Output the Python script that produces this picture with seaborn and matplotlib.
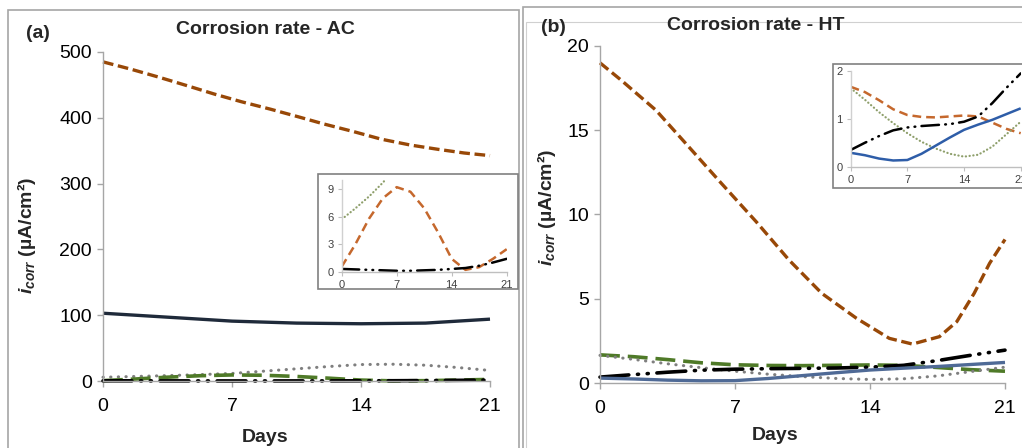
import matplotlib
matplotlib.use("Agg")
import matplotlib.pyplot as plt
from matplotlib.patches import Rectangle
import seaborn as sns

# days
days7 = [0, 3.5, 7, 10.5, 14, 17.5, 21]
days13 = [0, 1.75, 3.5, 5.25, 7, 8.75, 10.5, 12.25, 14, 15.75, 17.5, 19.25, 21]
days_acb = [0, 1.5, 3.0, 4.6, 6.05, 7.5, 9.1, 10.6, 12.0, 13.6, 15.1, 16.7, 18.2, 19.6, 21]
days_htb = [0, 1.1, 2.9, 4.6, 6.3, 8.1, 9.8, 11.5, 13.3, 15.0, 16.2, 17.6, 18.5, 19.4, 20.2, 21]

# (a) AC
ac_brown = [485, 474, 462, 448.5, 436, 424.5, 413, 401.5, 390.5, 379, 367.5, 358.5, 352, 346.5, 342.5]
ac_solid = [103, 97, 91, 88, 87, 88, 94]
ac_dotted = [5.7, 6.9, 8.2, 9.7, 11.5, 15, 18.5, 22, 25, 25.5, 24, 20.5, 16]
ac_green = [0.55, 3.0, 5.8, 8.0, 9.2, 8.7, 6.9, 4.3, 1.4, 0.2, 0.5, 1.4, 2.45]
ac_black = [0.3, 0.25, 0.2, 0.15, 0.1, 0.1, 0.15, 0.2, 0.3, 0.4, 0.65, 1.0, 1.4]

# (b) HT
ht_brown = [19.0, 17.97, 16.19, 14.02, 11.84, 9.57, 7.30, 5.32, 3.84, 2.65, 2.31, 2.75, 3.64, 5.32, 7.1, 8.52]
ht_green = [1.67, 1.56, 1.39, 1.20, 1.08, 1.04, 1.03, 1.05, 1.07, 1.05, 0.92, 0.79, 0.70]
ht_dotted = [1.64, 1.40, 1.14, 0.91, 0.70, 0.52, 0.38, 0.27, 0.21, 0.25, 0.42, 0.68, 0.94]
ht_black = [0.35, 0.50, 0.64, 0.76, 0.82, 0.85, 0.87, 0.89, 0.94, 1.05, 1.33, 1.65, 1.95]
ht_solid = [0.29, 0.24, 0.17, 0.13, 0.14, 0.27, 0.44, 0.61, 0.77, 0.88, 0.98, 1.10, 1.22]

xticks = [0, 7, 14, 21]

sns.set_style("white")
plt.rcParams['font.family'] = ['Liberation Sans', 'DejaVu Sans']
plt.rcParams['mathtext.fontset'] = 'custom'
plt.rcParams['mathtext.it'] = 'Liberation Sans:italic:bold'
plt.rcParams['mathtext.rm'] = 'Liberation Sans:bold'
plt.rcParams['mathtext.bf'] = 'Liberation Sans:bold'

DASH = (0, (3.2, 1.4))
LDASH = (0, (5.5, 2.2))
DOT = (0, (0.1, 2.4))
DDOT = (0, (8, 2.4, 0.3, 2.4, 0.3, 2.4))

fig = plt.figure(figsize=(10.22, 4.48), dpi=100)

# panel frames
fig.patches.append(Rectangle((8/1022, -0.05), 511/1022, 1 - 10/448 + 0.05, transform=fig.transFigure,
                             fill=False, edgecolor='#A6A6A6', lw=1.2, zorder=0))
fig.patches.append(Rectangle((523/1022, -0.05), 510/1022, 1 - 7/448 + 0.05, transform=fig.transFigure,
                             fill=False, edgecolor='#A6A6A6', lw=1.2, zorder=0))
fig.patches.append(Rectangle((526/1022, -0.05), 510/1022, 1, transform=fig.transFigure,
                             fill=False, edgecolor='#D0D0D0', lw=0.8, zorder=0))


def line(ax, x, y, color, ls, lw, cap='butt'):
    sns.lineplot(x=x, y=y, ax=ax, color=color, linestyle=ls, lw=lw,
                 clip_on=False, solid_capstyle=cap, dash_capstyle=cap)


def style_axes(ax, fs, pad_x, pad_y, tcol='black'):
    for s in ['top', 'right']:
        ax.spines[s].set_visible(False)
    for s in ['left', 'bottom']:
        ax.spines[s].set_color('#A6A6A6')
        ax.spines[s].set_linewidth(1)
    ax.tick_params(axis='both', direction='out', length=4, width=1, color='#A6A6A6',
                   labelsize=fs, labelcolor=tcol, left=True, bottom=True)
    ax.tick_params(axis='x', pad=pad_x)
    ax.tick_params(axis='y', pad=pad_y)
    ax.set_xlim(0, 21)
    ax.set_xticks(xticks)
    ax.set_xlabel('')
    ax.set_ylabel('')
    ax.set_facecolor('none')


# ---- (a) main
ax1 = fig.add_axes([103/1022, 1 - 381/448, 387/1022, 329/448])
line(ax1, days_acb, ac_brown, '#984807', DASH, 2.4)
line(ax1, days7, ac_solid, '#1F2A3A', '-', 2.4)
line(ax1, days13, ac_dotted, '#7F7F7F', DOT, 2.2, 'round')
line(ax1, days13, ac_green, '#4F7A28', LDASH, 2.6)
line(ax1, days13, ac_black, 'black', DDOT, 2.6, 'round')
style_axes(ax1, 14, 8, 4)
ax1.set_ylim(0, 500)
ax1.set_yticks([0, 100, 200, 300, 400, 500])

# ---- (b) main
ax2 = fig.add_axes([600/1022, 1 - 383/448, 405/1022, 337/448])
line(ax2, days_htb, ht_brown, '#984807', DASH, 2.4)
line(ax2, days13, ht_green, '#4F7A28', LDASH, 2.6)
line(ax2, days13, ht_dotted, '#7F7F7F', DOT, 2.2, 'round')
line(ax2, days13, ht_black, 'black', DDOT, 2.6, 'round')
line(ax2, days13, ht_solid, '#4F6A96', '-', 2.4)
style_axes(ax2, 14, 8, 4)
ax2.set_ylim(0, 20)
ax2.set_yticks([0, 5, 10, 15, 20])

# ---- inset frames
fig.patches.append(Rectangle((318/1022, 1 - 289/448), 200/1022, 115/448, transform=fig.transFigure,
                             facecolor='white', edgecolor='#808080', lw=1.2, zorder=2))
fig.patches.append(Rectangle((833/1022, 1 - 188/448), 200/1022, 124/448, transform=fig.transFigure,
                             facecolor='white', edgecolor='#808080', lw=1.2, zorder=2))

INDASH = (0, (3.5, 2.0))
INDOT = (0, (0.1, 1.6))
INDDOT = (0, (7, 2.5, 0.3, 2.5, 0.3, 2.5))

# ---- (a) inset
in1 = fig.add_axes([341.7/1022, 1 - 271.7/448, 165/1022, 91.9/448])
in1.set_zorder(3)
line(in1, days13, ac_dotted, '#8E9F6B', INDOT, 1.6, 'round')
line(in1, days13, ac_green, '#C5682D', INDASH, 1.8)
line(in1, days13, ac_black, 'black', INDDOT, 1.8, 'round')
for l in in1.lines:
    l.set_clip_on(True)
style_axes(in1, 8, 3, 3, '#404040')
in1.tick_params(length=3, width=0.8, color='#BFBFBF')
in1.spines['left'].set_color('#D0D0D0')
in1.spines['bottom'].set_color('#BFBFBF')
in1.set_ylim(0, 10)
in1.set_yticks([0, 3, 6, 9])

# ---- (b) inset
in2 = fig.add_axes([850.7/1022, 1 - 166.7/448, 170/1022, 95.7/448])
in2.set_zorder(3)
line(in2, days13, ht_green, '#C5682D', INDASH, 1.8)
line(in2, days13, ht_dotted, '#8E9F6B', INDOT, 1.6, 'round')
line(in2, days13, ht_black, 'black', INDDOT, 1.8, 'round')
line(in2, days13, ht_solid, '#2E5DA8', '-', 1.8)
for l in in2.lines:
    l.set_clip_on(True)
style_axes(in2, 8, 3, 3, '#404040')
in2.tick_params(length=3, width=0.8, color='#BFBFBF')
in2.spines['left'].set_color('#D0D0D0')
in2.spines['bottom'].set_color('#BFBFBF')
in2.set_ylim(0, 2)
in2.set_yticks([0, 1, 2])

# ---- texts
fig.text(26/1022, 1 - 34/448, '(a)', fontsize=14, fontweight='bold', ha='left', va='center')
fig.text(265/1022, 1 - 29/448, 'Corrosion rate - AC', fontsize=14, fontweight='bold', ha='center', va='center')
fig.text(541/1022, 1 - 27/448, '(b)', fontsize=14, fontweight='bold', ha='left', va='center')
fig.text(756/1022, 1 - 25/448, 'Corrosion rate - HT', fontsize=14, fontweight='bold', ha='center', va='center')
fig.text(265/1022, 1 - 437/448, 'Days', fontsize=14, fontweight='bold', ha='center', va='center')
fig.text(775/1022, 1 - 435/448, 'Days', fontsize=14, fontweight='bold', ha='center', va='center')
ylab = r'$i_{corr}$ (µA/cm²)'
fig.text(26/1022, 1 - 235/448, ylab, fontsize=14, fontweight='bold', rotation=90, ha='center', va='center')
fig.text(546/1022, 1 - 207/448, ylab, fontsize=14, fontweight='bold', rotation=90, ha='center', va='center')

fig.savefig('out.png', dpi=100)
